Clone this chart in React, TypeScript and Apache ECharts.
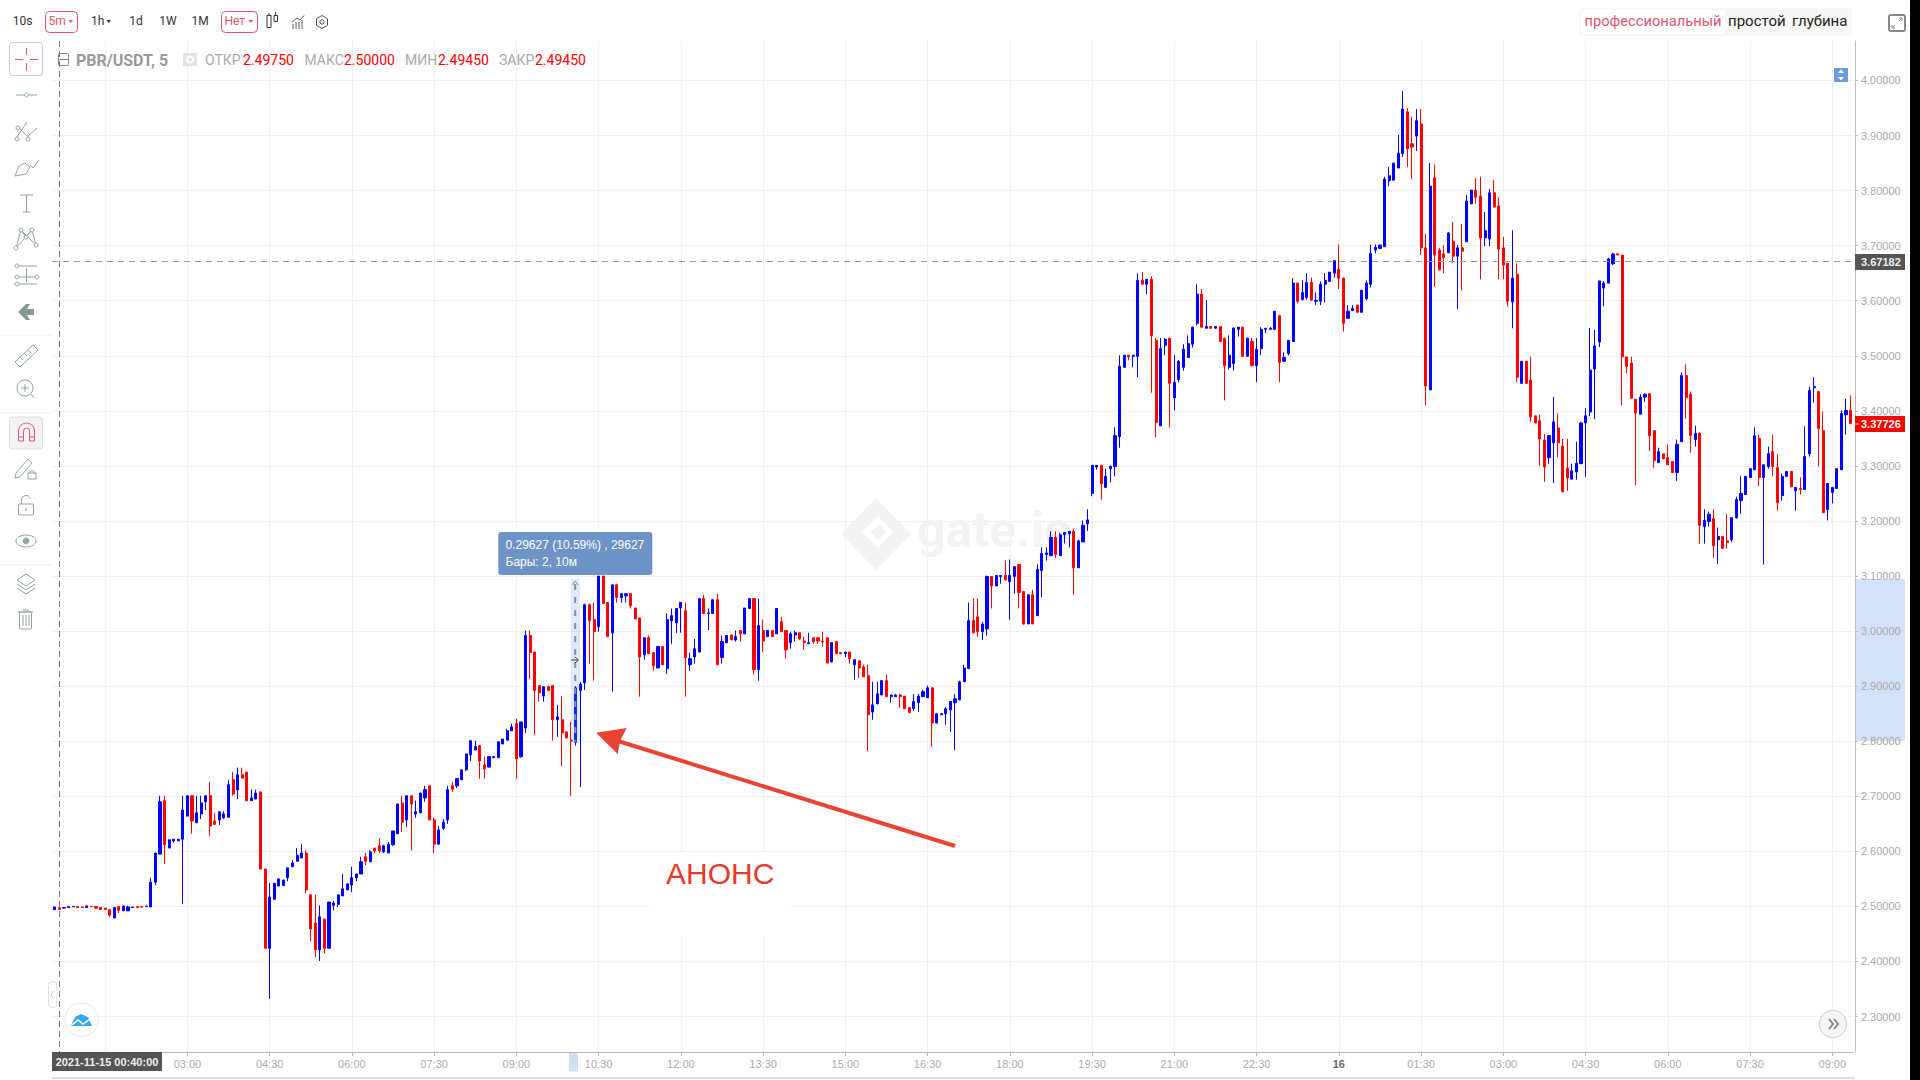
import React, { useEffect, useRef } from "react";
import * as echarts from "echarts";

// [open, close, low, high]  (0 = no wick beyond the body)
const flatOpening = [
[2.494,2.499,0,0],[2.4975,2.4945,2.4945,2.5],[2.497,2.498,2.496,0],[2.498,2.5,0,0],[2.4995,2.5,0,0],[2.5,2.498,0,0],[2.499,2.498,0,0],[2.498,2.501,0,0],[2.5,2.4995,0,0],[2.5,2.497,2.495,0],
[2.498,2.494,0,0],[2.497,2.4945,0,0],[2.4945,2.484,2.481,0],[2.479,2.498,0,0],[2.5,2.493,2.488,0],[2.492,2.501,0,0],[2.492,2.499,0,2.501],[2.498,2.499,0,0],[2.4995,2.498,2.497,0],[2.5,2.499,2.498,0],[2.4995,2.5005,0,0],
];
const firstRally = [
[2.499,2.544,0,2.552],[2.544,2.597,2.539,0],[2.595,2.69,0,2.701],[2.692,2.612,2.577,2.701],[2.606,2.621,0,0],[2.619,2.622,2.616,0],[2.619,2.622,0,0],[2.622,2.675,2.504,2.701],[2.664,2.701,0,0],[2.701,2.655,2.632,0],
[2.652,2.67,0,2.701],[2.668,2.688,2.659,2.701],[2.69,2.701,2.675,0],[2.701,2.646,2.628,2.726],[2.655,2.649,2.648,2.67],[2.657,2.672,2.648,0],[2.661,2.668,2.659,2.673],[2.662,2.721,0,2.73],[2.73,2.704,2.701,2.744],[2.712,2.739,2.695,2.752],
[2.739,2.733,0,2.752],[2.744,2.692,0,0],[2.692,2.697,0,2.712],[2.695,2.706,0,2.712],[2.708,2.568,0,0],[2.568,2.424,0,0],[2.424,2.517,2.332,2.542],[2.513,2.542,0,0],[2.537,2.55,0,0],[2.538,2.548,0,0],
[2.552,2.57,2.546,0],[2.572,2.579,0,2.584],[2.582,2.593,0,2.606],[2.588,2.597,0,2.613],[2.597,2.53,2.524,2.602],[2.521,2.459,2.437,0],[2.47,2.421,2.408,2.521],[2.421,2.481,2.401,2.502],[2.477,2.424,2.415,0],[2.424,2.508,0,0],
[2.502,2.506,2.493,2.51],[2.504,2.521,2.499,0],[2.519,2.532,0,2.559],[2.53,2.541,0,0],[2.539,2.552,2.526,2.572],[2.552,2.559,2.546,0],[2.559,2.581,0,2.59],[2.59,2.582,2.575,2.597],[2.581,2.599,0,2.602],[2.606,2.601,2.597,0],
[2.61,2.601,2.597,2.624],[2.599,2.61,2.597,2.612],[2.597,2.613,0,2.617],[2.612,2.637,2.61,0],[2.632,2.686,0,0],[2.688,2.653,2.635,2.701],[2.657,2.701,2.644,0],[2.701,2.686,2.602,0],[2.668,2.672,2.661,2.692],[2.67,2.706,0,0],
[2.697,2.712,2.69,2.719],[2.719,2.657,0,0],[2.657,2.613,2.597,2.661],[2.613,2.639,0,2.646],[2.642,2.653,2.639,2.659],[2.657,2.712,2.65,2.719],[2.719,2.713,2.708,2.726],[2.719,2.732,2.715,0],[2.73,2.748,0,0],[2.748,2.777,2.746,0],
[2.775,2.801,2.764,0],[2.784,2.79,0,2.801],[2.792,2.764,2.732,0],[2.757,2.75,2.732,2.772],[2.753,2.772,0,0],[2.77,2.772,0,0],[2.77,2.799,0,0],[2.795,2.804,0,0],[2.802,2.819,0,2.822],[2.819,2.826,0,2.832],
[2.832,2.768,2.732,2.841],[2.772,2.835,2.77,0],[2.824,2.992,2.815,3.001],
];
const announcementSwing = [
[2.992,2.961,2.913,3.001],[2.962,2.892,2.812,0],[2.901,2.888,2.872,0],[2.882,2.899,2.872,0],[2.899,2.892,0,2.901],[2.901,2.839,2.801,0],[2.839,2.844,2.808,2.866],[2.839,2.815,2.755,2.882],[2.817,2.806,0,0],[2.802,2.8,2.701,2.835],
[2.798,2.897,2.792,2.9],[2.892,2.904,2.717,2.908],[2.906,3.048,2.893,3.05],[3.048,3.019,2.941,3.05],[3.021,2.999,2.91,3.052],[3.008,3.1,2.999,0],[3.1,3.05,0,0],[3.052,2.99,0,0],[2.997,3.084,2.89,0],[3.084,3.061,3.052,3.086],
[3.061,3.068,3.052,0],[3.064,3.068,3.052,0],[3.068,3.046,3.041,0],[3.042,3.022,0,0],[3.024,2.953,2.881,0],[2.957,2.988,2.948,0],[2.988,2.959,0,2.992],[2.961,2.937,2.928,0],[2.933,2.972,0,0],[2.972,2.939,0,0],
[2.932,3.021,2.922,3.032],[3.019,3.028,2.977,3.041],[3.015,3.041,2.997,3.042],[3.042,3.052,2.997,0],[3.037,2.952,2.881,3.052],[2.939,2.95,2.928,2.961],[2.953,2.968,2.941,2.986],[2.962,3.059,0,0],[3.059,3.032,0,3.066],[3.032,3.033,3.002,3.041],
[3.032,3.057,0,0],[3.057,2.939,0,3.068],[2.952,2.981,2.941,2.992],[2.979,2.992,0,0],[2.993,2.984,0,0],[2.984,2.99,2.981,3.001],[3.001,2.995,2.981,0],[2.995,3.042,0,0],[3.041,3.059,0,0],[3.059,2.93,2.921,0],
[2.93,3.01,2.91,3.059],[3.001,2.982,2.962,3.021],[2.99,3.001,0,0],[3.001,2.99,0,0],[2.995,3.041,0,0],[3.017,2.999,0,3.026],[3.001,2.966,2.95,0],[2.979,2.995,2.968,2.999],[2.993,2.997,2.981,3.001],[2.997,2.986,2.984,0],
[2.982,2.979,2.966,2.99],[2.977,2.979,0,2.997],[2.988,2.981,2.977,0],[2.988,2.982,2.977,0],[2.982,2.981,2.972,2.999],[2.988,2.942,0,0],[2.944,2.979,0,0],[2.981,2.959,0,0],[2.961,2.959,0,0],[2.959,2.962,2.953,0],
[2.962,2.95,2.941,0],[2.939,2.948,2.912,0],[2.946,2.933,2.915,0],[2.935,2.917,0,2.939],[2.919,2.848,2.782,2.939],[2.853,2.866,2.839,2.908],[2.868,2.886,0,2.908],[2.884,2.91,0,0],[2.91,2.881,0,2.921],[2.881,2.884,2.87,0],
[2.881,2.884,0,2.886],[2.884,2.881,2.861,2.886],[2.882,2.859,0,0],[2.861,2.852,0,0],[2.859,2.872,2.855,2.886],[2.87,2.882,2.853,2.886],[2.881,2.89,0,2.893],[2.879,2.897,0,2.901],[2.897,2.833,2.79,0],[2.833,2.85,0,0],
[2.848,2.85,0,0],[2.85,2.859,2.83,2.862],[2.857,2.872,2.817,0],[2.87,2.877,2.784,2.886],[2.875,2.908,0,2.91],[2.908,2.933,0,2.939],[2.932,3.019,0,3.052],[3.019,2.997,0,3.059],[3.026,2.999,2.99,3.059],
];
const eveningClimb = [
[2.999,3.013,2.984,3.017],[3.004,3.099,2.992,3.101],[3.099,3.082,3.041,0],[3.082,3.101,0,0],[3.099,3.101,3.086,0],[3.101,3.093,3.092,3.128],[3.09,3.101,3.021,3.13],[3.099,3.117,3.068,0],[3.121,3.07,3.041,0],[3.072,3.013,3.012,0],
[3.013,3.066,0,0],[3.066,3.013,0,3.075],[3.028,3.112,0,3.121],[3.11,3.141,3.061,3.152],[3.139,3.142,3.128,3.152],[3.137,3.17,0,3.181],[3.17,3.139,3.133,3.181],[3.137,3.175,0,3.179],[3.175,3.179,3.159,0],[3.177,3.181,3.152,0],
[3.181,3.115,3.066,3.186],[3.115,3.164,0,3.166],[3.162,3.192,0,3.201],[3.195,3.202,3.182,3.221],[3.25,3.301,3.245,0],[3.298,3.301,3.293,0],[3.301,3.268,3.239,0],[3.261,3.281,0,3.295],[3.295,3.299,3.27,3.301],[3.299,3.355,3.281,3.37],
[3.353,3.481,3.333,3.501],[3.479,3.501,0,0],[3.501,3.498,3.492,0],[3.499,3.501,3.479,0],[3.499,3.637,3.461,3.65],[3.637,3.63,0,3.652],[3.63,3.639,3.612,0],[3.639,3.537,3.433,3.644],[3.528,3.379,3.352,3.532],[3.373,3.513,3.372,3.532],
[3.519,3.53,3.501,3.532],[3.532,3.45,3.37,0],[3.424,3.452,3.401,3.501],[3.457,3.49,3.452,3.492],[3.479,3.512,3.473,3.521],[3.497,3.522,0,3.537],[3.521,3.552,3.515,3.553],[3.559,3.612,3.555,3.63],[3.612,3.552,0,3.621],[3.55,3.553,0,3.601],
[3.553,3.55,0,0],[3.55,3.553,0,0],[3.553,3.526,0,0],[3.532,3.482,3.419,0],[3.479,3.501,3.475,3.537],[3.486,3.55,3.473,3.552],[3.548,3.552,3.535,0],[3.552,3.499,0,0],[3.499,3.532,0,0],[3.526,3.482,3.481,3.532],
[3.482,3.512,3.452,3.532],[3.513,3.548,3.501,3.552],[3.548,3.55,3.541,0],[3.548,3.55,0,3.552],[3.548,3.581,0,0],[3.573,3.488,3.452,0],[3.49,3.497,0,3.506],[3.504,3.528,3.501,0],[3.526,3.632,0,3.641],[3.632,3.599,3.595,0],
[3.602,3.615,3.601,3.637],[3.606,3.633,3.602,3.65],[3.633,3.601,0,3.642],[3.599,3.601,3.592,3.615],[3.599,3.63,3.592,3.635],[3.63,3.637,3.597,3.65],[3.635,3.652,0,0],[3.65,3.673,3.642,0],[3.657,3.641,3.621,3.702],[3.641,3.559,3.544,3.642],
[3.568,3.581,0,3.592],[3.582,3.586,0,3.592],[3.592,3.579,0,0],[3.579,3.619,0,0],[3.604,3.632,3.601,3.637],[3.63,3.686,3.624,3.702],[3.692,3.697,3.686,3.702],[3.695,3.701,0,3.702],
];
const nightPeak = [
[3.698,3.821,0,3.825],[3.818,3.827,3.808,3.843],[3.819,3.85,0,0],[3.841,3.868,0,3.901],[3.867,3.948,3.861,3.981],[3.943,3.876,3.843,3.95],[3.885,3.879,3.821,3.934],[3.899,3.927,3.872,3.948],[3.921,3.696,3.683,3.948],[3.696,3.445,3.41,3.721],
[3.438,3.808,0,3.85],[3.823,3.683,3.625,3.847],[3.692,3.656,0,3.696],[3.685,3.678,3.65,3.701],[3.687,3.723,0,3.725],[3.708,3.681,3.668,3.743],[3.681,3.696,3.585,3.701],[3.696,3.69,3.619,3.739],[3.707,3.781,0,3.792],[3.776,3.801,0,0],
[3.801,3.788,3.776,3.823],[3.79,3.714,3.639,3.825],[3.714,3.727,3.699,3.761],[3.712,3.796,3.699,3.803],[3.796,3.77,0,3.819],[3.772,3.694,3.639,3.788],[3.696,3.665,3.639,3.716],[3.668,3.599,3.59,0],[3.598,3.641,3.55,3.728],[3.648,3.461,3.452,3.668],
[3.45,3.49,0,0],[3.49,3.45,0,0],[3.456,3.389,3.38,3.498],[3.391,3.378,0,0],[3.382,3.349,3.3,3.393],[3.347,3.298,3.271,3.358],[3.315,3.355,3.304,0],[3.342,3.38,3.269,3.425],[3.369,3.342,3.316,3.395],[3.336,3.253,0,3.349],
[3.296,3.278,3.255,3.349],[3.276,3.291,0,3.304],[3.289,3.305,3.275,3.344],[3.304,3.378,0,3.38],[3.378,3.391,3.28,3.405],[3.398,3.474,3.39,3.55],[3.476,3.518,3.385,3.547],[3.525,3.636,3.516,0],[3.623,3.632,3.59,3.636],[3.632,3.676,0,3.678],
[3.667,3.685,3.665,3.687],[3.685,3.683,0,3.687],[3.683,3.498,3.41,0],[3.498,3.481,3.468,0],[3.487,3.423,0,3.498],[3.421,3.396,3.265,0],[3.394,3.425,0,3.43],[3.425,3.43,3.416,3.432],[3.431,3.355,3.327,0],
];
const morningPullback = [
[3.364,3.31,3.297,0],[3.306,3.326,0,3.333],[3.322,3.313,0,0],[3.315,3.302,0,3.339],[3.308,3.288,0,0],[3.288,3.339,3.273,3.348],[3.344,3.464,0,3.47],[3.464,3.424,3.386,3.484],[3.43,3.355,3.324,3.435],[3.348,3.359,3.335,3.373],
[3.359,3.192,3.159,3.361],[3.19,3.201,3.159,3.221],[3.199,3.212,3.19,3.217],[3.204,3.155,3.133,3.221],[3.166,3.172,3.122,3.188],[3.172,3.15,0,0],[3.164,3.161,3.15,3.212],[3.166,3.206,3.162,0],[3.206,3.239,3.204,3.244],[3.237,3.25,3.213,3.282],
[3.248,3.281,0,0],[3.279,3.295,0,0],[3.293,3.355,0,3.37],[3.35,3.279,3.264,3.357],[3.279,3.302,3.121,0],[3.299,3.322,3.295,3.335],[3.326,3.299,3.281,3.357],[3.297,3.233,3.219,3.321],[3.246,3.281,3.237,3.286],[3.281,3.29,0,0],
[3.29,3.262,0,0],[3.255,3.261,3.219,0],[3.259,3.257,3.248,3.279],[3.257,3.317,0,3.372],[3.322,3.437,3.317,3.444],[3.442,3.444,3.415,3.461],[3.435,3.368,3.299,0],[3.364,3.215,0,3.399],[3.221,3.268,3.201,0],[3.252,3.261,3.232,0],
[3.259,3.295,0,0],[3.293,3.395,0,3.401],[3.393,3.401,3.357,3.422],[3.401,3.37726,0,3.428],
];

const yTickValues = [2.3,2.4,2.5,2.6,2.7,2.8,2.9,3.0,3.1,3.2,3.3,3.4,3.5,3.6,3.7,3.8,3.9,4.0];
const yMin = 2.2356;
const yMax = 4.0717;
const lastPrice = 3.37726;
const crosshairPrice = 3.67182;
const firstBarUtc = Date.UTC(2021, 10, 15, 0, 35);
const barMinutes = 5;

const allRows = [...flatOpening, ...firstRally, ...announcementSwing, ...eveningClimb, ...nightPeak, ...morningPullback];
const categories = allRows.map((_, i) =>
  new Date(firstBarUtc + i * barMinutes * 60000).toISOString().slice(0, 16).replace("T", " ")
);
const candleData = allRows.map(([o, c, l, h]) => [o, c, l || Math.min(o, c), h || Math.max(o, c)]);

const isTimeTick = (i: number) => i % 18 === 11;
const ARIAL = '"Liberation Sans", Arial, sans-serif';
const UI = 'Roboto, sans-serif';
const GREY = "#93a1a1";
const PINK = "#e2556f";

const L = (x1: number, y1: number, x2: number, y2: number, stroke = GREY, lineWidth = 1, z = 50, lineDash?: number[]) =>
  ({ type: "line", z, silent: true, shape: { x1, y1, x2, y2 }, style: { stroke, lineWidth, lineDash } });
const C = (cx: number, cy: number, r: number, stroke = GREY, fill = "none", lineWidth = 1, z = 50) =>
  ({ type: "circle", z, silent: true, shape: { cx, cy, r }, style: { stroke, fill, lineWidth } });
const R = (x: number, y: number, width: number, height: number, fill = "none", stroke = "none", r = 0, z = 50, lineWidth = 1) =>
  ({ type: "rect", z, silent: true, shape: { x, y, width, height, r }, style: { fill, stroke, lineWidth } });
const PG = (points: number[][], fill = "none", stroke = "none", z = 50, lineWidth = 1) =>
  ({ type: "polygon", z, silent: true, shape: { points }, style: { fill, stroke, lineWidth } });
const PL = (points: number[][], stroke = GREY, lineWidth = 1, z = 50) =>
  ({ type: "polyline", z, silent: true, shape: { points }, style: { stroke, lineWidth, fill: "none" } });
const A = (cx: number, cy: number, r: number, startAngle: number, endAngle: number, stroke = GREY, lineWidth = 1, z = 50) =>
  ({ type: "arc", z, silent: true, shape: { cx, cy, r, startAngle, endAngle, clockwise: true }, style: { stroke, lineWidth, fill: "none" } });
const T = (text: string, x: number, y: number, font: string, fill: string, align = "left", z = 60) =>
  ({ type: "text", z, silent: true, x, y, style: { text, x: 0, y: 0, font, fill, align, verticalAlign: "middle", textAlign: align, textVerticalAlign: "middle" } });

const topBar: any[] = [
  T("10s", 22.5, 21, `12px ${UI}`, "#333", "center"),
  R(45.5, 11.5, 32, 21, "#fff", PINK, 4),
  T("5m", 48.5, 21, `12px ${UI}`, PINK),
  PG([[68.5, 20], [73, 20], [70.7, 23]], PINK),
  T("1h", 91, 21, `12px ${UI}`, "#333"),
  PG([[106.5, 20], [111, 20], [108.7, 23]], "#333"),
  T("1d", 136, 21, `12px ${UI}`, "#333", "center"),
  T("1W", 168, 21, `12px ${UI}`, "#333", "center"),
  T("1M", 200, 21, `12px ${UI}`, "#333", "center"),
  R(221.5, 11.5, 36, 21, "#fff", PINK, 4),
  T("Нет", 224.5, 21, `12px ${UI}`, PINK),
  PG([[248.5, 20], [253, 20], [250.7, 23]], PINK),
  // candles icon
  R(267, 15.5, 4, 12, "none", "#333"), L(269, 15.5, 269, 13, "#333"),
  R(274, 15.5, 3.5, 6, "none", "#333"), L(275.7, 15.5, 275.7, 12, "#333"),
  // indicators icon
  L(293, 24, 293, 29, "#555"), L(296, 22, 296, 29, "#555"), L(299, 22, 299, 29, "#555"), L(302, 20, 302, 29, "#555"),
  PL([[292, 22], [297, 18], [300, 20], [304, 15.5]], "#555"),
  // settings icon
  PG([[322, 15.5], [327.5, 18.7], [327.5, 25.3], [322, 28.5], [316.5, 25.3], [316.5, 18.7]], "none", "#555"),
  C(322, 22, 2.2, "#555"),
  // mode switch
  R(1579, 8, 273, 28, "#f7f7f7", "none", 4),
  R(1581, 10, 144, 24, "#ffffff", "none", 3),
  T("профессиональный", 1584.5, 21, `14.7px ${UI}`, PINK),
  T("простой", 1728, 21, `15px ${UI}`, "#222"),
  T("глубина", 1792, 21, `15px ${UI}`, "#222"),
  // fullscreen
  R(1889, 15, 16, 16, "none", "#888", 2, 50, 2),
  L(1899, 21, 1902, 18, "#888"), PL([[1899, 18], [1902, 18], [1902, 21]], "#888"),
  L(1892, 28, 1895, 25, "#888"), PL([[1892, 25], [1892, 28], [1895, 28]], "#888"),
];

const sideBar: any[] = [
  R(9.5, 42.5, 33, 33, "#fff", "#ccc", 3),
  L(26.5, 48, 26.5, 55, PINK), L(26.5, 63, 26.5, 71, PINK), L(15, 59.5, 23, 59.5, PINK), L(30, 59.5, 38, 59.5, PINK),
  L(16, 95, 37, 95), C(26.5, 95, 2, GREY, "#fff"),
  L(17, 137, 27, 122), L(27, 137, 37, 128), L(17, 126, 28, 137), C(17, 139, 2, GREY, "#fff"), C(28, 139, 2, GREY, "#fff"), C(18, 128, 2, GREY, "#fff"),
  PG([[15, 176], [19, 166], [25, 163], [30, 167], [26, 174]], "none", GREY), PL([[30, 165], [33, 168], [39, 160]]),
  L(20, 195, 33, 195), L(26.5, 195, 26.5, 212), L(23, 212, 30, 212),
  PL([[16, 248], [21, 230], [26, 237], [32, 230], [36, 245]]), L(21, 230, 36, 245), L(16, 248, 32, 230),
  C(16, 248, 2, GREY, "#fff"), C(21, 230, 2, GREY, "#fff"), C(32, 230, 2, GREY, "#fff"), C(36, 245, 2, GREY, "#fff"), C(26, 237, 2, GREY, "#fff"),
  L(19, 266, 37, 266), L(16, 277, 37, 277), L(19, 284, 37, 284), L(26.5, 268, 26.5, 282),
  C(17, 266, 2, GREY, "#fff"), C(17, 277, 2, GREY, "#fff"), C(37, 277, 2, GREY, "#fff"), C(17, 284, 2, GREY, "#fff"),
  PG([[18, 312], [26, 304], [30, 304], [27, 309], [34, 309], [34, 315], [27, 315], [30, 320], [26, 320]], "#8a9a9a"),
  L(0, 335, 52, 335, "#eeeeee"),
  PG([[15, 362], [33, 345], [38, 350], [20, 367]], "none", GREY),
  L(20, 357, 23, 360), L(24, 353, 27, 356), L(28, 350, 31, 353),
  C(25, 388, 8, GREY), L(25, 384, 25, 392), L(21, 388, 29, 388), L(31, 394, 34, 398),
  L(0, 413, 52, 413, "#eeeeee"),
  R(9.5, 417, 33, 32, "#f3f3f5", "#dddddd", 3),
  A(26.5, 431, 8, Math.PI, 2 * Math.PI, PINK), A(26.5, 431, 3, Math.PI, 2 * Math.PI, PINK),
  L(18.5, 431, 18.5, 441, PINK), L(34.5, 431, 34.5, 441, PINK), L(23.5, 431, 23.5, 441, PINK), L(29.5, 431, 29.5, 441, PINK),
  L(18.5, 441, 23.5, 441, PINK), L(29.5, 441, 34.5, 441, PINK), L(18.5, 437, 23.5, 437, PINK), L(29.5, 437, 34.5, 437, PINK),
  PG([[16, 473], [28, 459], [32, 463], [20, 477], [15, 478]], "none", GREY),
  R(28, 473, 8, 6, "none", GREY), A(32, 473, 2.5, Math.PI, 2 * Math.PI),
  R(18.5, 504, 15, 11, "none", GREY, 1), A(26, 500, 4.5, Math.PI, 1.9 * Math.PI), L(21.5, 500, 21.5, 504), L(26, 508, 26, 511),
  { type: "ellipse", z: 50, silent: true, shape: { cx: 26, cy: 541, rx: 10, ry: 6 }, style: { stroke: GREY, fill: "none", lineWidth: 1 } },
  C(26, 541, 3, GREY, GREY),
  L(0, 565, 52, 565, "#eeeeee"),
  PG([[26, 574], [35, 580], [26, 586], [17, 580]], "none", GREY),
  PL([[17, 584], [26, 590], [35, 584]]), PL([[17, 588], [26, 594], [35, 588]]),
  L(18, 612, 33, 612), R(19.5, 612, 12, 17, "none", GREY, 1), L(23, 615, 23, 626), L(26, 615, 26, 626), L(29, 615, 29, 626), L(23, 610, 29, 610),
];

const legendBar: any[] = [
  R(58.5, 53.5, 10, 12, "none", "#888", 1), L(58.5, 59.5, 68.5, 59.5, "#888"),
  T("PBR/USDT, 5", 76, 60, `bold 16px ${UI}`, "#9a9a9a"),
  R(183, 53, 14, 13, "#e3e3e3"), C(190, 59.5, 3, "#ffffff", "none", 2),
  T("ОТКР", 205, 60, `14px ${UI}`, "#aaaaaa"), T("2.49750", 243, 60, `14px ${UI}`, "#ff0000"),
  T("МАКС", 304.5, 60, `14px ${UI}`, "#aaaaaa"), T("2.50000", 344, 60, `14px ${UI}`, "#ff0000"),
  T("МИН", 405, 60, `14px ${UI}`, "#aaaaaa"), T("2.49450", 438, 60, `14px ${UI}`, "#ff0000"),
  T("ЗАКР", 499, 60, `14px ${UI}`, "#aaaaaa"), T("2.49450", 535, 60, `14px ${UI}`, "#ff0000"),
];

const overlays: any[] = [
  // watermark
  PG([[876, 498], [911, 534], [876, 570], [841, 534]], "#f3f3f3", "none", 1),
  PG([[878, 516], [893, 532], [878, 548], [862, 532]], "#ffffff", "none", 1),
  PG([[880, 524], [886, 532], [878, 540], [870, 532]], "#f3f3f3", "none", 1),
  T("gate.io", 917, 530, `bold 50px ${UI}`, "#f3f3f3", "left", 1),
  // pasted annotation background
  R(650, 852, 140, 84, "#ffffff", "none", 0, 1),
  // axis highlights
  R(1855, 579, 50, 162, "#d3e2f8", "none", 0, -1),
  R(569, 1052.5, 9, 19, "#cfe0f7", "none", 0, -1),
  // bottom rule and page edge
  R(52, 1077.5, 1803, 1, "#bdbdbd", "none", 0, 1),
  R(1910, 0, 10, 1080, "#000000", "none", 0, 90),
  // crosshair
  L(59.5, 41, 59.5, 1052, "#777", 1, 55, [6, 4]),
  L(52, 261.5, 1855, 261.5, "#999", 1, 55, [6, 5]),
  R(52, 1052, 110, 19, "#555555", "none", 0, 70),
  T("2021-11-15 00:40:00", 107, 1062, `bold 11px ${ARIAL}`, "#eeeeee", "center", 71),
  R(1855, 254, 50, 16, "#555555", "none", 0, 70),
  T(crosshairPrice.toFixed(5), 1861, 262, `bold 11px ${ARIAL}`, "#eeeeee", "left", 71),
  R(1855, 416, 50, 16, "#ff0000", "none", 0, 70),
  L(1855, 424, 1859, 424, "#fff", 1, 71),
  T(lastPrice.toFixed(5), 1861, 424, `bold 11px ${ARIAL}`, "#ffffff", "left", 71),
  // scale button
  R(1834, 68, 14, 14, "#6f9ae0", "none", 0, 60),
  PG([[1841, 69.5], [1844, 73], [1838, 73]], "#fff", "none", 61),
  PG([[1841, 80.5], [1844, 77], [1838, 77]], "#fff", "none", 61),
  // measure tool
  R(570.7, 579, 9.3, 163.7, "rgba(110,160,240,0.22)", "none", 0, 40),
  L(575.2, 584, 575.2, 742, "#8a8fa0", 2, 41, [6, 7]),
  PL([[572.5, 585], [575.2, 581], [578, 585]], "#8a8fa0", 1, 41),
  L(571, 660, 578, 660, "#444", 1, 41),
  PL([[575, 657], [578.5, 660], [575, 663]], "#444", 1, 41),
  R(498.3, 532, 154, 43, "#6e93c6", "none", 3, 42),
  T("0.29627 (10.59%) , 29627", 505.5, 544.5, `12px ${ARIAL}`, "#ffffff", "left", 43),
  T("Бары: 2, 10м", 505.5, 562, `12px ${ARIAL}`, "#ffffff", "left", 43),
  // red arrow and note
  L(618, 741, 955, 846, "#e84335", 4, 45),
  PG([[596, 732.7], [626.7, 728], [620, 741], [617.7, 754]], "#e84335", "none", 45),
  T("АНОНС", 666, 873, `30px ${ARIAL}`, "#e8392b", "left", 45),
  // edge controls
  R(48.5, 981.5, 8.5, 26, "#ffffff", "#dddddd", 4, 46),
  PL([[53.5, 991], [51, 995], [53.5, 999]], "#b5c5d5", 1, 47),
  C(81.7, 1019.7, 16.7, "#e8e8e8", "#ffffff", 1, 46),
  PG([[71, 1026], [75, 1017], [81, 1014], [88, 1017], [92, 1026]], "#3aa8f0", "none", 47),
  PL([[72, 1025], [78, 1020], [83, 1024], [90, 1019]], "#ffffff", 1.5, 48),
  C(1833, 1024, 13.7, "#cccccc", "#f4f4f4", 1, 46),
  PL([[1829, 1019], [1833, 1024], [1829, 1029]], "#888888", 2, 47),
  PL([[1834, 1019], [1838, 1024], [1834, 1029]], "#888888", 2, 47),
];

export default function App() {
  const ref = useRef<HTMLDivElement>(null);
  useEffect(() => {
    document.body.style.margin = "0";
    document.body.style.background = "#fff";
    const chart = echarts.init(ref.current!, undefined, { renderer: "svg" });
    chart.setOption({
      animation: false,
      backgroundColor: "#ffffff",
      grid: { left: 52.6, width: 1800.3, top: 41, height: 1011, containLabel: false },
      xAxis: {
        type: "category",
        data: categories,
        boundaryGap: true,
        z: 0,
        axisLine: { show: true, lineStyle: { color: "#bbbbbb" } },
        axisTick: { show: true, alignWithLabel: true, length: 4, interval: (i: number) => isTimeTick(i), lineStyle: { color: "#bbbbbb" } },
        splitLine: { show: true, alignWithLabel: true, interval: (i: number) => isTimeTick(i), lineStyle: { color: "#f0f0f0", width: 1 } },
        axisLabel: {
          interval: (i: number) => isTimeTick(i) && i !== 11,
          margin: 6,
          color: "#aaaaaa",
          fontFamily: ARIAL,
          fontSize: 11,
          formatter: (v: string) => {
            const t = v.slice(11);
            return t === "00:00" ? "{day|" + v.slice(8, 10) + "}" : t;
          },
          rich: { day: { color: "#666666", fontWeight: "bold", fontFamily: ARIAL, fontSize: 11 } },
        },
      },
      yAxis: {
        type: "value",
        position: "right",
        offset: 2,
        min: yMin,
        max: yMax,
        scale: true,
        z: 0,
        axisLine: { show: true, onZero: false, lineStyle: { color: "#bbbbbb" } },
        axisTick: { show: true, length: 3, customValues: yTickValues, lineStyle: { color: "#bbbbbb" } },
        splitLine: { show: true, lineStyle: { color: "#f0f0f0", width: 1 } },
        axisLabel: {
          customValues: yTickValues,
          margin: 6,
          color: "#a8a8a8",
          fontFamily: ARIAL,
          fontSize: 11,
          formatter: (v: number) => v.toFixed(5),
        },
      },
      series: [
        {
          type: "candlestick",
          data: candleData,
          barWidth: 2.6,
          silent: true,
          clip: true,
          itemStyle: { color: "#0000ff", color0: "#ff0000", borderColor: "#0000ff", borderColor0: "#ff0000", borderWidth: 1 },
        },
      ],
      graphic: { elements: [...overlays, ...topBar, ...sideBar, ...legendBar] },
    });
    return () => chart.dispose();
  }, []);
  return <div ref={ref} style={{ position: "absolute", left: 0, top: 0, width: 1920, height: 1080 }} />;
}
